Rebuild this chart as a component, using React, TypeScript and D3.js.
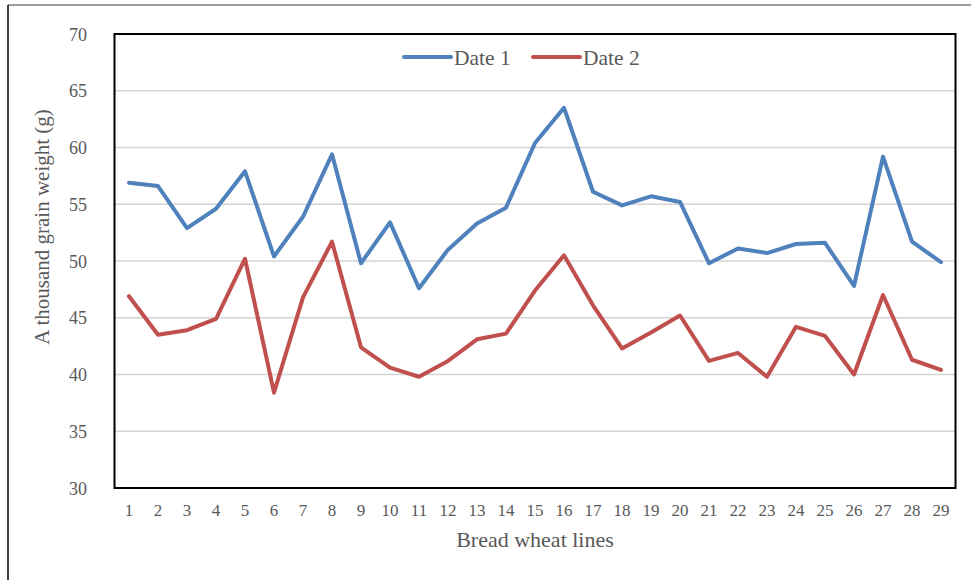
import React from "react";
import * as d3 from "d3";

const lines: string[] = Array.from({ length: 29 }, (_, i) => String(i + 1));
const date1: number[] = [
  56.9, 56.6, 52.9, 54.6, 57.9, 50.4, 53.9, 59.4, 49.8, 53.4,
  47.6, 51.0, 53.3, 54.7, 60.4, 63.5, 56.1, 54.9, 55.7, 55.2,
  49.8, 51.1, 50.7, 51.5, 51.6, 47.8, 59.2, 51.7, 49.9,
];
const date2: number[] = [
  46.9, 43.5, 43.9, 44.9, 50.2, 38.4, 46.8, 51.7, 42.4, 40.6,
  39.8, 41.2, 43.1, 43.6, 47.4, 50.5, 46.1, 42.3, 43.7, 45.2,
  41.2, 41.9, 39.8, 44.2, 43.4, 40.0, 47.0, 41.3, 40.4,
];
const yTicks: number[] = [30, 35, 40, 45, 50, 55, 60, 65, 70];
const seriesNames: string[] = ["Date 1", "Date 2"];
const seriesColors: string[] = ["#4f81bd", "#c0504d"];

const W = 971;
const H = 580;
const left = 114.5;
const right = 955.5;
const top = 34;
const bottom = 488;
const font = "'Liberation Serif', 'Times New Roman', serif";
const textColor = "#595959";

export default function App() {
  const x = d3.scaleBand<string>().domain(lines).range([left, right]).padding(0);
  const y = d3.scaleLinear().domain([30, 70]).range([bottom, top]);
  const cx = (d: string) => (x(d) as number) + x.bandwidth() / 2;
  const line = d3
    .line<number>()
    .x((_, i) => cx(lines[i]))
    .y((v) => y(v));
  const series = [date1, date2];

  return (
    <svg
      width={W}
      height={H}
      style={{ position: "absolute", left: 0, top: 0, background: "#fff" }}
    >
      {/* outer frame */}
      <line x1={8} y1={5} x2={W} y2={5} stroke="#7f7f7f" strokeWidth={1.5} />
      <line x1={8} y1={5} x2={8} y2={H} stroke="#000" strokeWidth={1.5} />

      {/* gridlines */}
      {yTicks
        .filter((t) => t !== 30 && t !== 70)
        .map((t) => (
          <line
            key={t}
            x1={left}
            x2={right}
            y1={y(t)}
            y2={y(t)}
            stroke="#d4d4d4"
            strokeWidth={1.5}
          />
        ))}

      {/* plot border */}
      <rect
        x={left}
        y={top}
        width={right - left}
        height={bottom - top}
        fill="none"
        stroke="#000"
        strokeWidth={2}
      />

      {/* y tick labels */}
      {yTicks.map((t) => (
        <text
          key={t}
          x={87}
          y={y(t) + 6.5}
          textAnchor="end"
          fontFamily={font}
          fontSize={18}
          fill={textColor}
        >
          {t}
        </text>
      ))}

      {/* x tick labels */}
      {lines.map((c) => (
        <text
          key={c}
          x={cx(c)}
          y={516}
          textAnchor="middle"
          fontFamily={font}
          fontSize={17}
          fill={textColor}
        >
          {c}
        </text>
      ))}

      {/* axis titles */}
      <text
        x={(left + right) / 2}
        y={547}
        textAnchor="middle"
        fontFamily={font}
        fontSize={22}
        fill={textColor}
      >
        Bread wheat lines
      </text>
      <text
        transform={`translate(49, 227) rotate(-90)`}
        textAnchor="middle"
        fontFamily={font}
        fontSize={21}
        fill={textColor}
      >
        A thousand grain weight (g)
      </text>

      {/* series */}
      {series.map((s, i) => (
        <path
          key={i}
          d={line(s) as string}
          fill="none"
          stroke={seriesColors[i]}
          strokeWidth={4}
          strokeLinejoin="round"
          strokeLinecap="round"
        />
      ))}

      {/* legend */}
      {seriesNames.map((n, i) => {
        const x0 = i === 0 ? 404 : 533;
        return (
          <g key={n}>
            <line
              x1={x0}
              x2={x0 + 47}
              y1={57}
              y2={57}
              stroke={seriesColors[i]}
              strokeWidth={4}
              strokeLinecap="round"
            />
            <text
              x={x0 + 50}
              y={64.5}
              fontFamily={font}
              fontSize={21.5}
              fill={textColor}
            >
              {n}
            </text>
          </g>
        );
      })}
    </svg>
  );
}
